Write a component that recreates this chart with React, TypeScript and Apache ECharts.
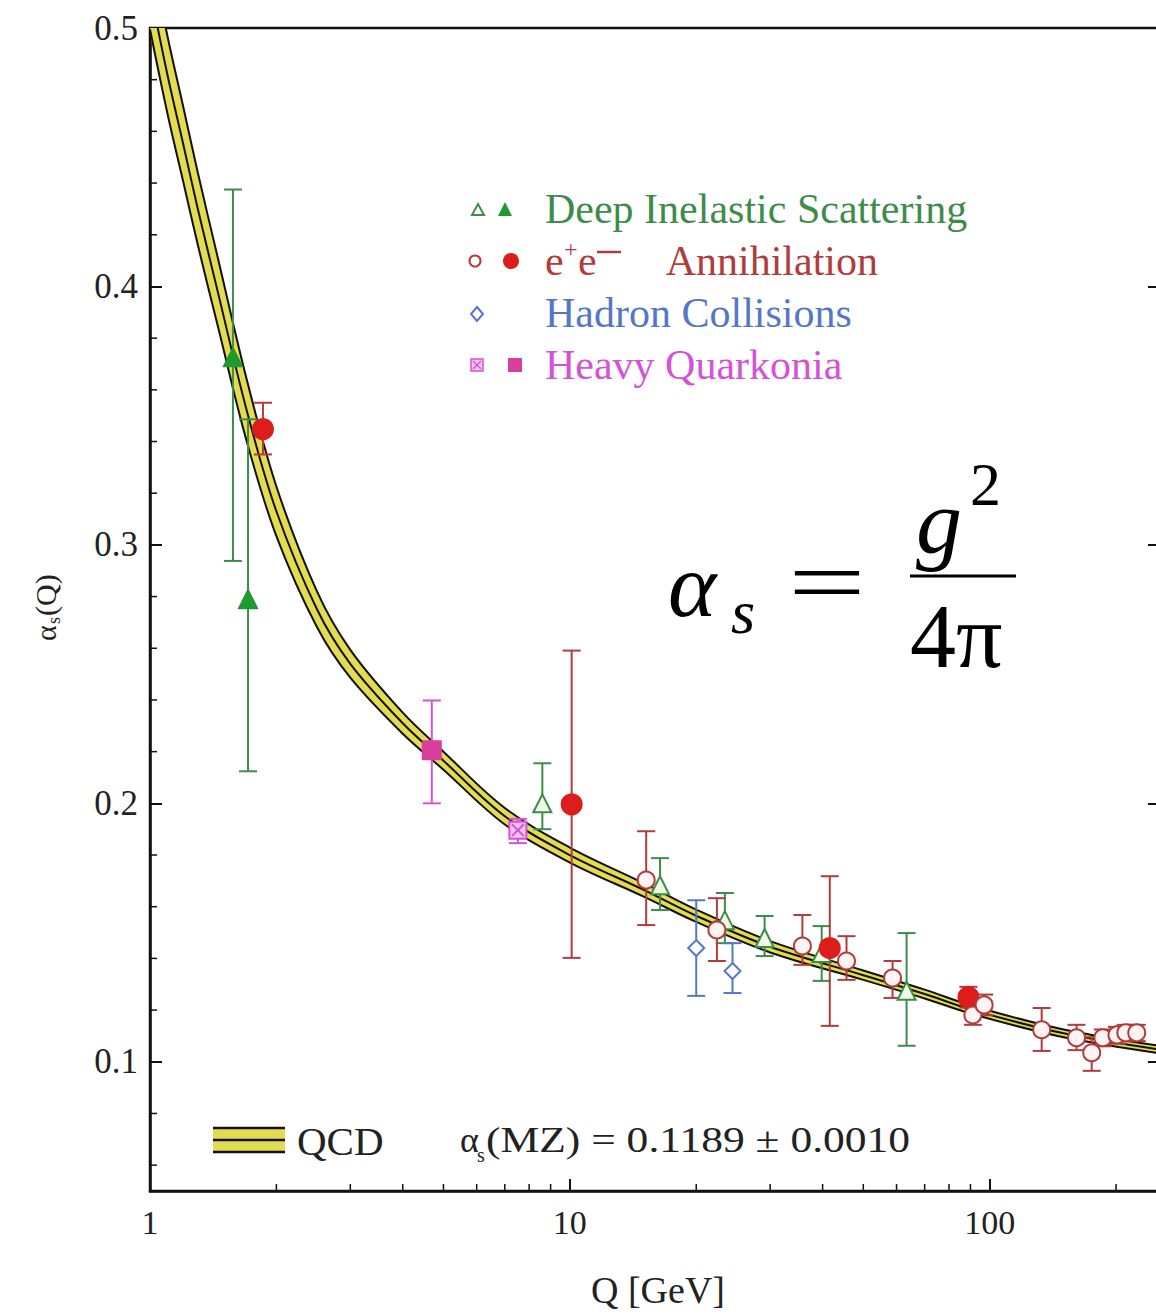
import { useEffect, useRef } from 'react';
import * as echarts from 'echarts';

const FONT = '"Liberation Serif", "Times New Roman", serif';

// QCD running coupling band
const curveQ = [1.0, 1.1, 1.2, 1.3, 1.45, 1.7, 2.0, 2.5, 3.0, 4.0, 5.0, 7.0, 10, 15, 20, 30, 50, 70, 91.2, 150, 265];
const curveAlpha = [0.515, 0.482, 0.455, 0.43, 0.398, 0.352, 0.313, 0.275, 0.254, 0.231, 0.2165, 0.195, 0.18, 0.1665, 0.1565, 0.1445, 0.1335, 0.1262, 0.12, 0.111, 0.1043];
const curveHalfWidth = [0.0155, 0.015, 0.0145, 0.014, 0.0132, 0.012, 0.0096, 0.0069, 0.0054, 0.0041, 0.0035, 0.0032, 0.0029, 0.0026, 0.0024, 0.0022, 0.0018, 0.0017, 0.0016, 0.0015, 0.0014];

// measurements: [Q, alpha_s, low, high]
const disFilled = [
  [1.576, 0.3726, 0.2938, 0.4375],
  [1.712, 0.279, 0.2124, 0.3486],
];
const disOpen = [
  [8.6, 0.2, 0.19, 0.2155],
  [16.4, 0.1683, 0.1587, 0.1788],
  [23.4, 0.1548, 0.1459, 0.1653],
  [29.1, 0.1479, 0.1409, 0.1564],
  [39.8, 0.1421, 0.1313, 0.1525],
  [63.4, 0.1275, 0.1062, 0.1498],
];
const eeFilled = [
  [1.858, 0.3448, 0.335, 0.355],
  [10.1, 0.1996, 0.1402, 0.2591],
  [41.6, 0.144, 0.1139, 0.1718],
  [89, 0.125, 0.121, 0.129],
];
const eeOpen = [
  [15.2, 0.1703, 0.1529, 0.1892],
  [22.4, 0.151, 0.139, 0.1633],
  [35.8, 0.1448, 0.1375, 0.1568],
  [45.6, 0.139, 0.1317, 0.1486],
  [58.7, 0.1324, 0.1247, 0.139],
  [91.2, 0.1181, 0.1143, 0.122],
  [97, 0.122, 0.118, 0.126],
  [133, 0.1124, 0.1042, 0.1208],
  [161, 0.1093, 0.1045, 0.1143],
  [175, 0.1035, 0.0965, 0.1095],
  [186, 0.1093, 0.106, 0.1125],
  [201, 0.1104, 0.107, 0.1135],
  [211, 0.1112, 0.108, 0.1143],
  [224, 0.1112, 0.108, 0.1143],
];
const hadronOpen = [
  [20.0, 0.144, 0.1255, 0.1625],
  [24.4, 0.1351, 0.1266, 0.1459],
];
const quarkoniaFilled = [[4.69, 0.2205, 0.2, 0.2398]];
const quarkoniaOpen = [[7.52, 0.1896, 0.1846, 0.194]];

const xMajorLabels = [1, 10, 100];
const xMinorTicks = [2, 3, 4, 5, 6, 7, 8, 9, 20, 30, 40, 50, 60, 70, 80, 90, 200];
const yMajorTicks = [0.1, 0.2, 0.3, 0.4, 0.5];
const yMinorTicks = [0.06, 0.08, 0.12, 0.14, 0.16, 0.18, 0.22, 0.24, 0.26, 0.28, 0.32, 0.34, 0.36, 0.38, 0.42, 0.44, 0.46, 0.48];

const X_MIN = 1;
const X_MAX = 263;
const Y_MIN = 0.05;
const Y_MAX = 0.5;

const GREEN = '#3d8c4a';
const GREEN_FILL = '#1f9a30';
const RED = '#b03c3c';
const RED_FILL = '#dd1c1c';
const BLUE = '#5577c8';
const MAGENTA = '#d452d4';
const MAGENTA_FILL = '#d93f9a';
const BAND = '#e4dc50';

function errorBars(data: number[][], color: string) {
  return {
    type: 'custom',
    silent: true,
    z: 3,
    data: data.map((d) => [d[0], d[2], d[3]]),
    encode: { x: 0, y: [1, 2] },
    renderItem: (_p: any, api: any) => {
      const lo = api.coord([api.value(0), api.value(1)]);
      const hi = api.coord([api.value(0), api.value(2)]);
      const cap = 9;
      const st = { stroke: color, lineWidth: 2 };
      return {
        type: 'group',
        children: [
          { type: 'line', shape: { x1: lo[0], y1: lo[1], x2: hi[0], y2: hi[1] }, style: st },
          { type: 'line', shape: { x1: lo[0] - cap, y1: lo[1], x2: lo[0] + cap, y2: lo[1] }, style: st },
          { type: 'line', shape: { x1: hi[0] - cap, y1: hi[1], x2: hi[0] + cap, y2: hi[1] }, style: st },
        ],
      };
    },
  };
}

function markers(data: number[][], symbol: string, size: number, fill: string, border: string) {
  return {
    type: 'scatter',
    z: 4,
    silent: true,
    data: data.map((d) => [d[0], d[1]]),
    symbol,
    symbolSize: size,
    itemStyle: { color: fill, borderColor: border, borderWidth: 2, opacity: 1 },
  };
}

const SQUARE_X = 'path://M0,0 L10,0 L10,10 L0,10 Z M1.5,1.5 L8.5,8.5 M8.5,1.5 L1.5,8.5';

function txt(text: string, x: number, y: number, size: number, color: string, extra: any = {}, el: any = {}) {
  return {
    type: 'text',
    x,
    y,
    silent: true,
    z: 10,
    ...el,
    style: {
      text,
      fill: color,
      fontFamily: FONT,
      fontSize: size,
      verticalAlign: 'middle',
      align: 'left',
      ...extra,
    },
  };
}

function shape(def: any) {
  return { silent: true, z: 10, ...def };
}

export default function App() {
  const ref = useRef<HTMLDivElement>(null);
  useEffect(() => {
    if (!ref.current) return;
    const chart = echarts.init(ref.current, undefined, { renderer: 'svg' });

    const SMOOTH = 0.35;

    const option: any = {
      animation: false,
      backgroundColor: '#ffffff',
      grid: {
        left: 150,
        top: 28,
        width: 1016,
        height: 1163,
        outerBoundsMode: 'none',
        containLabel: false,
        show: true,
        borderColor: '#111',
        borderWidth: 2.5,
        backgroundColor: 'transparent',
      },
      xAxis: {
        type: 'log',
        logBase: 10,
        min: X_MIN,
        max: X_MAX,
        name: 'Q [GeV]',
        nameLocation: 'middle',
        nameGap: 80,
        nameTextStyle: { fontFamily: FONT, fontSize: 38, color: '#222' },
        axisLine: { show: true, lineStyle: { color: '#111', width: 2.5 } },
        axisTick: { show: true, inside: true, length: 12, lineStyle: { color: '#111', width: 2 } },
        axisLabel: {
          fontFamily: FONT,
          fontSize: 34,
          color: '#222',
          margin: 14,
          formatter: (v: number) => (xMajorLabels.some((m) => Math.abs(m - v) < 1e-6) ? String(Math.round(v)) : ''),
        },
        splitLine: { show: false },
        minorTick: { show: false },
      },
      yAxis: [
        {
          type: 'value',
          min: Y_MIN,
          max: Y_MAX,
          axisLine: { show: true, lineStyle: { color: '#111', width: 2.5 } },
          axisTick: { show: true, inside: true, length: 12, customValues: yMajorTicks, lineStyle: { color: '#111', width: 2 } },
          axisLabel: {
            fontFamily: FONT,
            fontSize: 35,
            color: '#222',
            margin: 12,
            customValues: yMajorTicks,
            formatter: (v: number) => v.toFixed(1),
          },
          splitLine: { show: false },
        },
        {
          type: 'value',
          position: 'right',
          min: Y_MIN,
          max: Y_MAX,
          axisLine: { show: false },
          axisTick: { show: true, inside: true, length: 18, customValues: yMajorTicks, lineStyle: { color: '#111', width: 2 } },
          axisLabel: { show: false },
          splitLine: { show: false },
        },
      ],
      series: [
        {
          type: 'custom',
          name: 'QCD band',
          silent: true,
          clip: true,
          z: 2,
          data: curveQ.map((q, i) => [q, curveAlpha[i]]),
          encode: { x: 0, y: 1 },
          renderItem: (params: any, api: any) => {
            if (params.dataIndex !== 0) return null;
            const up = curveQ.map((q, i) => api.coord([q, curveAlpha[i] + curveHalfWidth[i]]));
            const lo = curveQ.map((q, i) => api.coord([q, curveAlpha[i] - curveHalfWidth[i]]));
            const mid = curveQ.map((q, i) => api.coord([q, curveAlpha[i]]));
            const ls = { stroke: '#111', lineWidth: 2, fill: null };
            return {
              type: 'group',
              children: [
                { type: 'polygon', shape: { points: up.concat(lo.slice().reverse()), smooth: SMOOTH }, style: { fill: BAND } },
                { type: 'polyline', shape: { points: up, smooth: SMOOTH }, style: ls },
                { type: 'polyline', shape: { points: mid, smooth: SMOOTH }, style: ls },
                { type: 'polyline', shape: { points: lo, smooth: SMOOTH }, style: ls },
              ],
            };
          },
        },
        {
          type: 'custom',
          silent: true,
          z: 5,
          data: xMinorTicks.map((v) => [v, Y_MIN]),
          encode: { x: 0, y: 1 },
          renderItem: (_p: any, api: any) => {
            const pt = api.coord([api.value(0), api.value(1)]);
            return { type: 'line', shape: { x1: pt[0], y1: pt[1], x2: pt[0], y2: pt[1] - 7 }, style: { stroke: '#111', lineWidth: 1.5 } };
          },
        },
        {
          type: 'custom',
          silent: true,
          z: 5,
          data: yMinorTicks.map((v) => [X_MIN, v]),
          encode: { x: 0, y: 1 },
          renderItem: (_p: any, api: any) => {
            const pt = api.coord([api.value(0), api.value(1)]);
            return { type: 'line', shape: { x1: pt[0], y1: pt[1], x2: pt[0] + 7, y2: pt[1] }, style: { stroke: '#111', lineWidth: 1.5 } };
          },
        },
        errorBars(disFilled, GREEN),
        errorBars(disOpen, GREEN),
        errorBars(eeFilled, RED),
        errorBars(eeOpen, RED),
        errorBars(hadronOpen, BLUE),
        errorBars(quarkoniaFilled, MAGENTA),
        errorBars(quarkoniaOpen, MAGENTA),
        markers(disFilled, 'triangle', 18, GREEN_FILL, GREEN_FILL),
        markers(disOpen, 'triangle', 18, '#eefbe6', GREEN),
        markers(eeFilled, 'circle', 20, RED_FILL, RED_FILL),
        markers(eeOpen, 'circle', 17, '#fff4f4', RED),
        markers(hadronOpen, 'diamond', 16, '#ffffff', BLUE),
        markers(quarkoniaFilled, 'rect', 18, MAGENTA_FILL, MAGENTA_FILL),
        markers(quarkoniaOpen, SQUARE_X, 17, '#f4c4f4', MAGENTA),
      ],
      graphic: [
        // legend rows
        shape({ type: 'polygon', shape: { points: [[472, 215], [484, 215], [478, 204]] }, style: { fill: '#fff', stroke: GREEN, lineWidth: 2 } }),
        shape({ type: 'polygon', shape: { points: [[498, 216], [512, 216], [505, 202]] }, style: { fill: GREEN_FILL } }),
        txt('Deep Inelastic Scattering', 545, 209, 42, GREEN),
        shape({ type: 'circle', shape: { cx: 475, cy: 261, r: 5.5 }, style: { fill: '#fff', stroke: RED, lineWidth: 2 } }),
        shape({ type: 'circle', shape: { cx: 511, cy: 261, r: 8 }, style: { fill: RED_FILL } }),
        txt('e', 545, 261, 42, RED),
        txt('+', 564, 249, 24, RED),
        txt('e', 578, 261, 42, RED),
        shape({ type: 'line', shape: { x1: 597, y1: 252, x2: 621, y2: 252 }, style: { stroke: RED, lineWidth: 2.5 } }),
        txt('Annihilation', 878, 261, 42, RED, { align: 'right' }),
        shape({ type: 'polygon', shape: { points: [[477, 307], [483, 314], [477, 321], [471, 314]] }, style: { fill: '#fff', stroke: BLUE, lineWidth: 2 } }),
        txt('Hadron Collisions', 545, 313, 42, BLUE),
        shape({ type: 'rect', shape: { x: 471, y: 359, width: 12, height: 12 }, style: { fill: '#f4c4f4', stroke: MAGENTA, lineWidth: 1.5 } }),
        shape({ type: 'line', shape: { x1: 473, y1: 361, x2: 481, y2: 369 }, style: { stroke: MAGENTA, lineWidth: 1.2 } }),
        shape({ type: 'line', shape: { x1: 481, y1: 361, x2: 473, y2: 369 }, style: { stroke: MAGENTA, lineWidth: 1.2 } }),
        shape({ type: 'rect', shape: { x: 508, y: 358, width: 14, height: 14 }, style: { fill: MAGENTA_FILL } }),
        txt('Heavy Quarkonia', 545, 365, 42, MAGENTA),

        // QCD band legend
        shape({ type: 'rect', shape: { x: 213, y: 1128, width: 72, height: 24 }, style: { fill: BAND } }),
        shape({ type: 'line', shape: { x1: 213, y1: 1128, x2: 285, y2: 1128 }, style: { stroke: '#111', lineWidth: 2.5 } }),
        shape({ type: 'line', shape: { x1: 213, y1: 1140, x2: 285, y2: 1140 }, style: { stroke: '#111', lineWidth: 2.5 } }),
        shape({ type: 'line', shape: { x1: 213, y1: 1152, x2: 285, y2: 1152 }, style: { stroke: '#111', lineWidth: 2.5 } }),
        txt('QCD', 297, 1141, 41, '#222'),
        txt('α', 460, 1140, 36, '#222'),
        txt('s', 477, 1155, 20, '#222'),
        txt('(MZ) = 0.1189 ± 0.0010', 486, 1140, 36, '#222', {}, { scaleX: 1.21 }),

        // y axis title
        {
          type: 'group',
          x: 45,
          y: 603,
          rotation: Math.PI / 2,
          silent: true,
          z: 10,
          children: [
            txt('α', -38, 0, 30, '#222'),
            txt('s', -21, 9, 18, '#222'),
            txt('(Q)', -13, 0, 30, '#222'),
          ],
        },

        // formula
        txt('α', 668, 585, 92, '#000', { fontStyle: 'italic' }),
        txt('s', 731, 612, 62, '#000', { fontStyle: 'italic' }),
        txt('=', 788, 582, 92, '#000', {}, { scaleX: 1.5 }),
        txt('g', 916, 522, 92, '#000', { fontStyle: 'italic' }),
        txt('2', 970, 484, 62, '#000'),
        shape({ type: 'line', shape: { x1: 910, y1: 576, x2: 1016, y2: 576 }, style: { stroke: '#000', lineWidth: 3 } }),
        txt('4π', 910, 636, 92, '#000'),
      ],
    };

    chart.setOption(option);
    return () => chart.dispose();
  }, []);

  return <div ref={ref} style={{ position: 'absolute', left: 0, top: 0, width: 1156, height: 1316, background: '#fff' }} />;
}
